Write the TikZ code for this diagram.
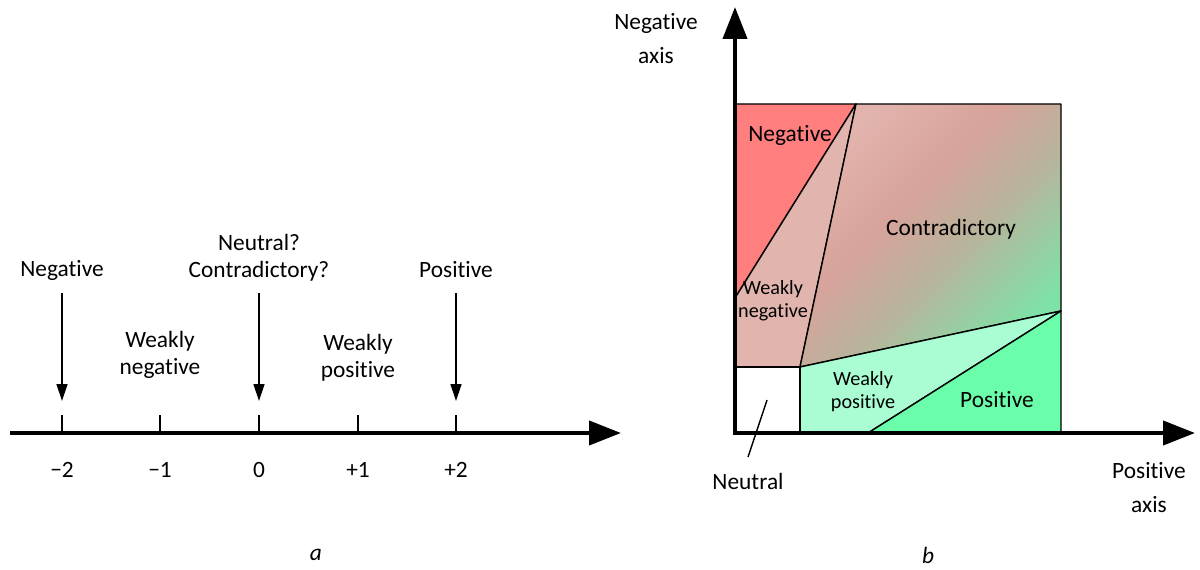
\documentclass[tikz,border=0pt]{standalone}
\usepackage{fontspec}
\setmainfont[Ligatures=NoCommon]{Carlito}
\usetikzlibrary{arrows.meta}
\definecolor{negred}{HTML}{FF7F7F}
\definecolor{wneg}{HTML}{E1B4AE}
\definecolor{wpos}{HTML}{AAFDD2}
\definecolor{posgreen}{HTML}{6AFEAA}
\definecolor{contraA}{HTML}{E2B4AD}
\definecolor{contraB}{HTML}{D7A39A}
\definecolor{contraC}{HTML}{B8B49C}
\definecolor{contraD}{HTML}{7EE2A6}
\pgfdeclarehorizontalshading{contra}{100bp}{color(0bp)=(contraA); color(25bp)=(contraA); color(42bp)=(contraB); color(56bp)=(contraC); color(75bp)=(contraD); color(100bp)=(contraD)}
\begin{document}
\begin{tikzpicture}[x=0.02cm,y=-0.02cm,
	lbl/.style={font=\fontsize{13.3}{15.5}\selectfont,inner sep=0pt,align=center},
	axislbl/.style={font=\fontsize{13.3}{19.3}\selectfont,inner sep=0pt,align=center},
	small/.style={font=\fontsize{11.5}{13}\selectfont,inner sep=0pt,align=center},
	axis/.style={line width=2.3pt},
	pointer/.style={line width=0.8pt,-{Triangle[length=0.34cm,width=0.22cm]}},
	region/.style={draw=black,line width=0.8pt,line join=round}]
	\useasboundingbox (0,0) rectangle (1200,570);
	% a: the scale
	\coordinate (lstart) at (10,433);
	\coordinate (lend) at (621,433);
	\foreach \x/\t [count=\i] in {62/−2,160/−1,259/0,358/+1,456/+2}{
		\coordinate (t\i) at (\x,433);
		\coordinate (u\i) at (\x,415);
		\draw[line width=0.8pt] (t\i) -- (u\i);
		\node[lbl] (v\i) at (\x,470) {\t};
	}
	\draw[axis,-{Triangle[length=0.64cm,width=0.48cm]}] (lstart) -- (lend);
	\node[lbl] (neg) at (62,270) {Negative};
	\node[lbl] (mid) at (259,258) {Neutral?\\Contradictory?};
	\node[lbl] (pos) at (456,270) {Positive};
	\node[lbl] (wneg) at (160,355) {Weakly\\negative};
	\node[lbl] (wpos) at (358,358) {Weakly\\positive};
	\foreach \x/\n in {62/1,259/3,456/5}{
		\coordinate (p\n) at (\x,293);
		\coordinate (q\n) at (\x,401);
		\draw[pointer] (p\n) -- (q\n);
	}
	\node[lbl,font=\fontsize{13.3}{15.5}\selectfont\itshape] (capa) at (316,555) {a};
	% b: the plane
	\coordinate (o) at (735,433);
	\coordinate (ytop) at (735,7);
	\coordinate (xend) at (1195,433);
	\coordinate (tl) at (735,104);
	\coordinate (tm) at (856,104);
	\coordinate (tr) at (1061,104);
	\coordinate (lm) at (735,298);
	\coordinate (lc) at (735,367);
	\coordinate (nc) at (800,367);
	\coordinate (nb) at (800,433);
	\coordinate (rm) at (1061,311);
	\coordinate (br) at (1061,433);
	\coordinate (pb) at (868,433);
	\filldraw[region,fill=negred] (tl) -- (tm) -- (lm) -- cycle;
	\filldraw[region,fill=wneg] (lm) -- (tm) -- (nc) -- (lc) -- cycle;
	\shade[shading=contra,shading angle=-45] (tm) -- (tr) -- (rm) -- (nc) -- cycle;
	\draw[region] (tm) -- (tr) -- (rm) -- (nc) -- cycle;
	\filldraw[region,fill=wpos] (nc) -- (rm) -- (pb) -- (nb) -- cycle;
	\filldraw[region,fill=posgreen] (pb) -- (rm) -- (br) -- cycle;
	\filldraw[region,fill=white] (lc) -- (nc) -- (nb) -- (o) -- cycle;
	\draw[axis,{Triangle[length=0.64cm,width=0.48cm]}-{Triangle[length=0.64cm,width=0.48cm]}] (ytop) -- (o) -- (xend);
	\node[lbl] (rneg) at (790,135) {Negative};
	\node[lbl] (rcon) at (951,229) {Contradictory};
	\node[small] (rwneg) at (773,301) {Weakly\\negative};
	\node[small] (rwpos) at (863,392) {Weakly\\positive};
	\node[lbl] (rpos) at (997,400) {Positive};
	\node[lbl] (neutral) at (748,481) {Neutral};
	\coordinate (nlow) at (748,457);
	\coordinate (nhigh) at (767,400);
	\draw[line width=0.8pt] (nlow) -- (nhigh);
	\node[axislbl] (yaxis) at (656,39) {Negative\\axis};
	\node[axislbl] (xaxis) at (1149,488) {Positive\\axis};
	\node[lbl,font=\fontsize{13.3}{15.5}\selectfont\itshape] (capb) at (928,555) {b};
\end{tikzpicture}
\end{document}
